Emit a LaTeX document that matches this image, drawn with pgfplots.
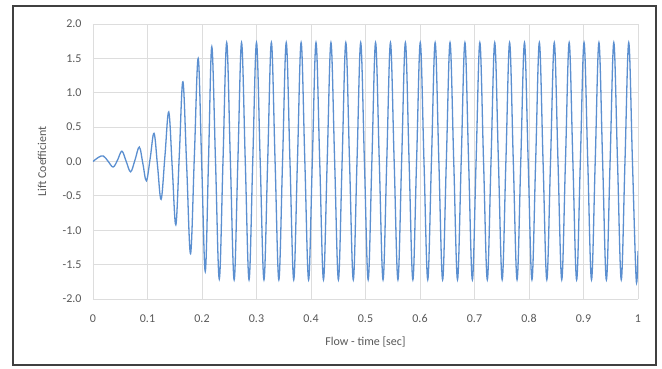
\documentclass[border=0pt]{standalone}
\usepackage{pgfplots}
\pgfplotsset{compat=1.18}
\usepackage{fontspec}
\setmainfont{Carlito}
\definecolor{lineblue}{HTML}{5B8FD0}
\definecolor{gridgray}{HTML}{DDDDDD}
\definecolor{txtgray}{HTML}{595959}
\begin{document}
\begin{tikzpicture}[x=1pt,y=1pt]
\path[use as bounding box, fill=white] (0,0) rectangle (662,368);
\draw[line width=2pt, black!75] (13,3) rectangle (656,362);
\begin{axis}[
  at={(93pt,69pt)}, anchor=south west,
  scale only axis, width=545pt, height=275pt,
  xmin=0, xmax=1, ymin=-2, ymax=2,
  xtick={0,0.1,...,1.0}, ytick={-2,-1.5,...,2},
  xticklabels={0,0.1,0.2,0.3,0.4,0.5,0.6,0.7,0.8,0.9,1},
  yticklabel style={/pgf/number format/fixed, /pgf/number format/fixed zerofill, /pgf/number format/precision=1, xshift=-8pt},
  /pgf/number format/assume math mode=true,
  grid=major, major grid style={gridgray, line width=0.8pt},
  axis line style={draw=none},
  tick style={draw=none},
  ticklabel style={font=\fontsize{12}{14}\selectfont, text=txtgray},
  xticklabel style={yshift=-12pt},
  label style={font=\fontsize{12}{14}\selectfont, text=txtgray},
  xlabel={Flow - time [sec]},
  ylabel={Lift Coefficient},
  xlabel style={at={(axis description cs:0.5,0)}, anchor=center, yshift=-43pt},
  ylabel style={at={(axis description cs:0,0.5)}, anchor=center, yshift=51pt},
]
\addplot[lineblue, line width=1.3pt, smooth, tension=0.6] coordinates {
(0.000,0.00) (0.010,0.06) (0.019,0.08) (0.028,0.00) (0.037,-0.08) (0.045,0.02)
(0.053,0.15) (0.061,0.00) (0.069,-0.15) (0.077,0.02)
(0.085,0.21) (0.0915,-0.03) (0.098,-0.28) (0.105,0.05)
(0.112,0.41) (0.1185,-0.07) (0.125,-0.55) (0.132,0.08)
(0.139,0.72) (0.1455,-0.10) (0.152,-0.92) (0.1585,0.12)
(0.165,1.16) (0.172,-0.09) (0.179,-1.34) (0.186,0.08)
(0.193,1.50) (0.1995,-0.05) (0.206,-1.60) (0.212,0.03)
(0.2180,1.67) (0.2248,0) (0.2317,-1.71) (0.2385,0)
(0.2453,1.73) (0.2521,0) (0.2590,-1.72) (0.2658,0)
(0.2726,1.73) (0.2794,0) (0.2863,-1.72) (0.2931,0)
(0.3000,1.73) (0.3068,0) (0.3137,-1.72) (0.3205,0)
(0.3273,1.73) (0.3341,0) (0.3410,-1.72) (0.3478,0)
(0.3546,1.73) (0.3614,0) (0.3683,-1.72) (0.3751,0)
(0.3819,1.73) (0.3887,0) (0.3956,-1.72) (0.4024,0)
(0.4092,1.73) (0.4160,0) (0.4229,-1.72) (0.4297,0)
(0.4366,1.73) (0.4434,0) (0.4503,-1.72) (0.4571,0)
(0.4639,1.73) (0.4707,0) (0.4776,-1.72) (0.4844,0)
(0.4912,1.73) (0.4980,0) (0.5049,-1.72) (0.5117,0)
(0.5185,1.73) (0.5253,0) (0.5322,-1.72) (0.5390,0)
(0.5458,1.73) (0.5526,0) (0.5595,-1.72) (0.5663,0)
(0.5732,1.73) (0.5800,0) (0.5869,-1.72) (0.5937,0)
(0.6005,1.73) (0.6073,0) (0.6142,-1.72) (0.6210,0)
(0.6278,1.73) (0.6346,0) (0.6415,-1.72) (0.6483,0)
(0.6551,1.73) (0.6619,0) (0.6688,-1.72) (0.6756,0)
(0.6824,1.73) (0.6892,0) (0.6961,-1.72) (0.7029,0)
(0.7098,1.73) (0.7166,0) (0.7235,-1.72) (0.7303,0)
(0.7371,1.73) (0.7439,0) (0.7508,-1.72) (0.7576,0)
(0.7644,1.73) (0.7712,0) (0.7781,-1.72) (0.7849,0)
(0.7917,1.73) (0.7985,0) (0.8054,-1.72) (0.8122,0)
(0.8190,1.73) (0.8258,0) (0.8327,-1.72) (0.8395,0)
(0.8464,1.73) (0.8532,0) (0.8601,-1.72) (0.8669,0)
(0.8737,1.73) (0.8805,0) (0.8874,-1.72) (0.8942,0)
(0.9010,1.73) (0.9078,0) (0.9147,-1.72) (0.9215,0)
(0.9283,1.73) (0.9351,0) (0.9420,-1.72) (0.9488,0)
(0.9556,1.73) (0.9624,0) (0.9693,-1.72) (0.9761,0)
(0.9830,1.73) (0.9898,0) (0.9967,-1.72) (1.0000,-1.30)
};
\end{axis}
\end{tikzpicture}
\end{document}
